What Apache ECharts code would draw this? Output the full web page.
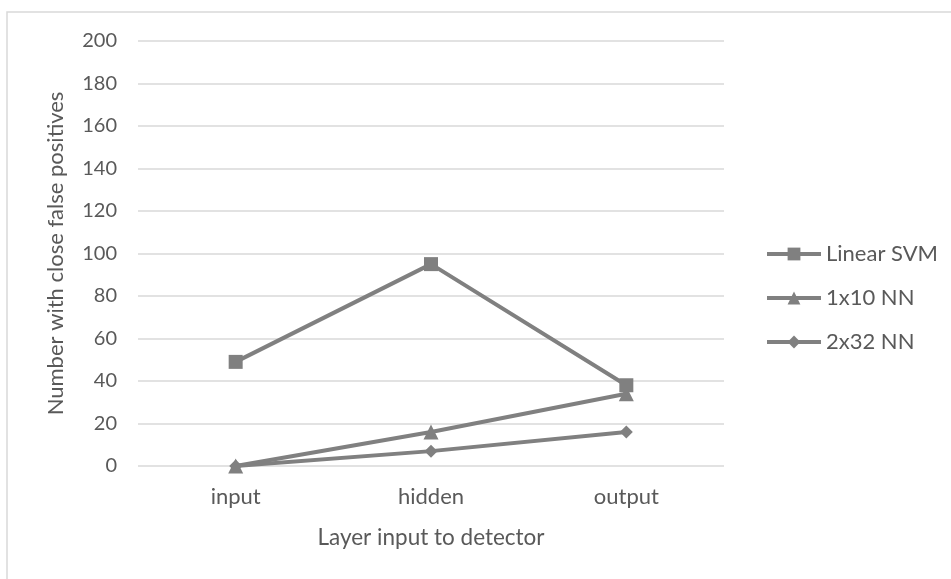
<!DOCTYPE html>
<html>
<head>
<meta charset="utf-8">
<script src="https://cdn.jsdelivr.net/npm/echarts@6/dist/echarts.min.js"></script>
<style>
html,body{margin:0;padding:0;background:#fff;}
#c{width:951px;height:579px;}
</style>
</head>
<body>
<div id="c"></div>
<script>
const categories = ['input', 'hidden', 'output'];
const linearSVM = [49, 95, 38];
const nn1x10 = [0, 16, 34];
const nn2x32 = [0, 7, 16];
const yTicks = { min: 0, max: 200, interval: 20 };

const FONT = 'Lato, "Liberation Sans", sans-serif';
const TXT = '#595959';
const LINE = '#808080';

const chart = echarts.init(document.getElementById('c'), null, { renderer: 'canvas' });

function mkSeries(name, data, symbol, size) {
  return {
    name: name,
    type: 'line',
    data: data,
    symbol: symbol,
    symbolSize: size,
    lineStyle: { color: LINE, width: 4 },
    itemStyle: { color: LINE },
    emphasis: { disabled: true },
    animation: false
  };
}

chart.setOption({
  animation: false,
  graphic: [{
    type: 'rect',
    shape: { x: 7, y: 12, width: 960, height: 600 },
    style: { fill: 'none', stroke: '#d9d9d9', lineWidth: 1.5 },
    silent: true,
    z: -1
  }],
  grid: { left: 138, right: 227, top: 41, bottom: 113, containLabel: false },
  xAxis: {
    type: 'category',
    data: categories,
    boundaryGap: true,
    axisLine: { show: false },
    axisTick: { show: false },
    axisLabel: { color: TXT, fontFamily: FONT, fontSize: 22, margin: 20 },
    name: 'Layer input to detector',
    nameLocation: 'middle',
    nameGap: 60,
    nameTextStyle: { color: TXT, fontFamily: FONT, fontSize: 22.5 }
  },
  yAxis: {
    type: 'value',
    min: yTicks.min,
    max: yTicks.max,
    interval: yTicks.interval,
    axisLine: { show: false },
    axisTick: { show: false },
    axisLabel: { color: TXT, fontFamily: FONT, fontSize: 20, margin: 21 },
    splitLine: { lineStyle: { color: '#d9d9d9', width: 1.5 } },
    name: 'Number with close false positives',
    nameLocation: 'middle',
    nameGap: 71,
    nameTextStyle: { color: TXT, fontFamily: FONT, fontSize: 22 }
  },
  legend: {
    orient: 'vertical',
    left: 760,
    top: 238,
    itemWidth: 54,
    itemHeight: 16,
    itemGap: 22,
    lineStyle: { width: 4 },
    textStyle: { color: TXT, fontFamily: FONT, fontSize: 22 },
    data: ['Linear SVM', '1x10 NN', '2x32 NN']
  },
  series: [
    mkSeries('Linear SVM', linearSVM, 'rect', 14),
    mkSeries('1x10 NN', nn1x10, 'triangle', 15),
    mkSeries('2x32 NN', nn2x32, 'diamond', 13)
  ]
});
</script>
</body>
</html>
